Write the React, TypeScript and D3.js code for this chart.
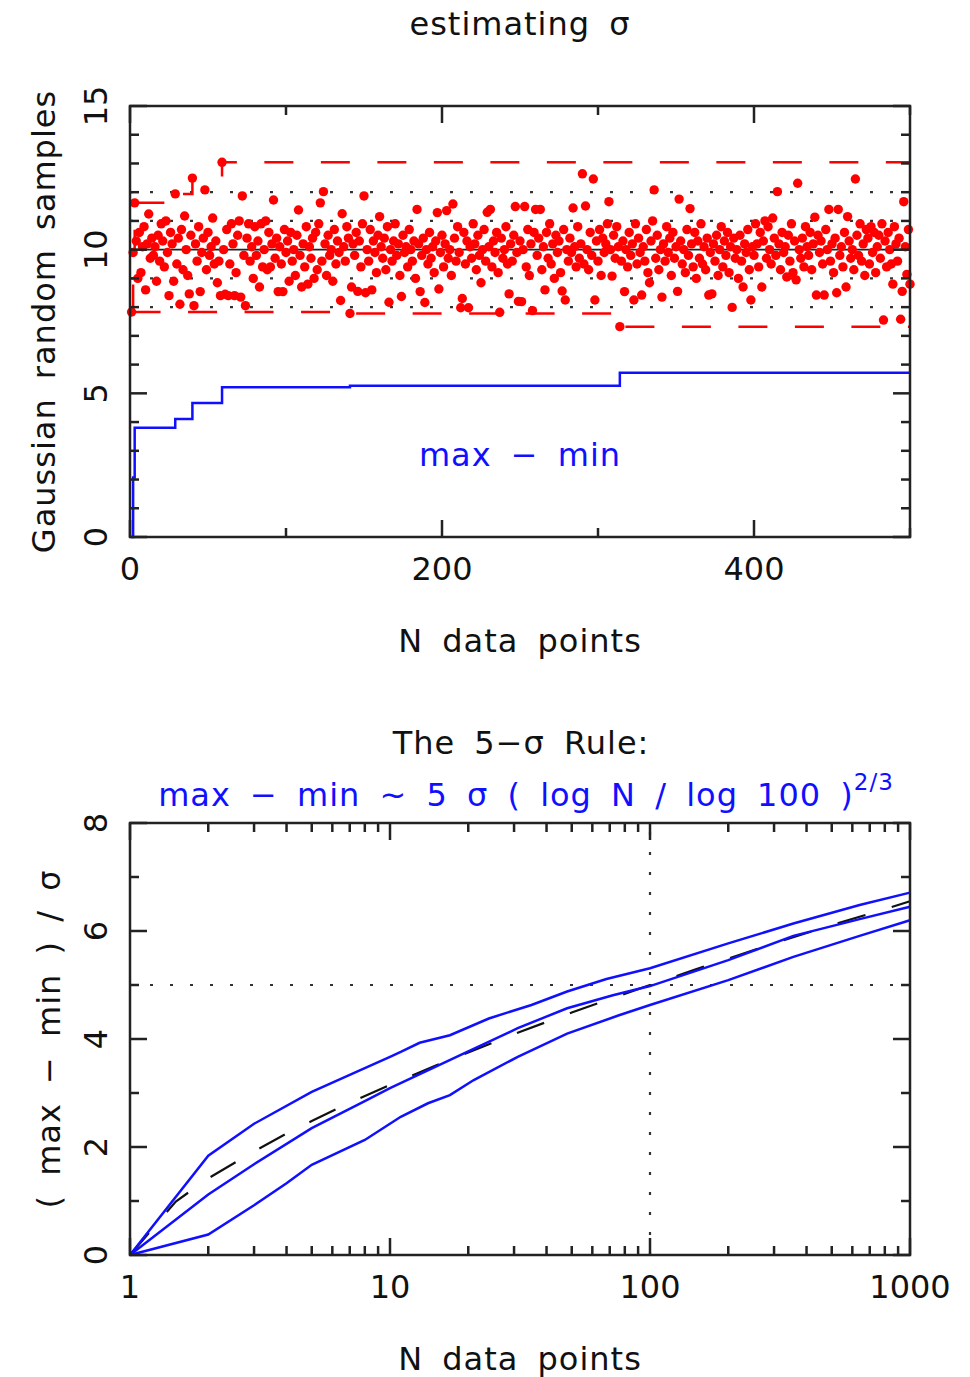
import React from 'react';
import * as d3 from 'd3';

// ---- top panel: 500 Gaussian samples (mean 10, sigma 1) ----
const samples: number[] = [
  7.83, 9.9, 11.63, 10.3, 9.0, 10.6, 9.2, 10.1, 10.8, 8.6, 10.2, 11.24, 9.7, 10.4, 9.8, 10.1, 8.9, 10.5, 9.6, 10.9,
  10.3, 9.4, 11.0, 9.9, 8.4, 10.6, 10.2, 8.9, 11.94, 9.5, 10.4, 8.1, 10.7, 9.3, 11.17, 10.0, 9.1, 8.46, 10.5, 12.49,
  8.05, 10.2, 9.6, 10.8, 8.54, 9.9, 10.4, 12.08, 9.3, 10.6, 9.8, 10.1, 11.1, 9.5, 10.3, 8.85, 9.6, 8.4, 13.04, 10.0,
  8.45, 10.7, 8.4, 9.5, 10.9, 10.2, 8.4, 9.2, 10.5, 11.0, 8.35, 11.87, 9.8, 8.05, 10.4, 10.9, 9.6, 10.1, 9.0, 10.8,
  9.8, 10.3, 8.7, 10.9, 9.4, 10.0, 11.0, 9.3, 10.6, 9.4, 10.2, 11.73, 9.7, 10.4, 8.54, 10.1, 9.5, 8.54, 10.7, 9.9,
  10.3, 8.9, 10.6, 9.6, 10.0, 9.1, 10.5, 11.38, 9.8, 8.7, 10.2, 9.4, 10.8, 8.8, 10.1, 9.7, 10.4, 9.0, 10.6, 9.3,
  10.9, 11.63, 9.6, 12.02, 10.2, 9.1, 10.5, 9.8, 10.0, 8.9, 10.7, 9.5, 10.3, 9.9, 8.23, 11.25, 10.1, 9.6, 10.8, 10.4,
  7.78, 8.7, 10.2, 9.8, 10.6, 8.55, 10.3, 9.4, 10.9, 11.87, 8.5, 10.0, 9.6, 10.7, 8.6, 10.3, 9.9, 9.2, 10.5, 11.15,
  10.1, 9.7, 10.4, 9.3, 10.8, 8.17, 10.0, 9.6, 10.3, 10.9, 9.8, 10.2, 9.1, 8.37, 10.5, 9.9, 10.1, 9.4, 10.7, 10.0,
  9.6, 10.3, 9.0, 11.4, 10.2, 8.54, 9.8, 10.4, 8.16, 10.0, 9.5, 10.6, 9.7, 10.1, 9.2, 10.3, 11.29, 8.63, 9.9, 10.5,
  9.4, 10.2, 11.36, 9.7, 10.0, 9.1, 11.59, 10.4, 9.6, 10.8, 9.9, 7.98, 8.3, 10.6, 9.5, 10.3, 7.98, 10.1, 9.7, 10.9,
  10.2, 9.3, 10.5, 9.8, 8.85, 10.0, 10.7, 9.6, 11.3, 10.1, 11.4, 9.4, 10.3, 9.9, 10.6, 9.2, 7.82, 10.4, 9.7, 10.0,
  10.8, 9.5, 8.46, 10.2, 9.6, 10.5, 11.5, 9.9, 8.2, 10.3, 8.19, 10.0, 11.5, 9.4, 10.7, 9.1, 10.2, 7.88, 10.6, 11.4,
  9.8, 10.4, 11.4, 9.3, 10.1, 8.6, 10.6, 9.7, 10.9, 9.5, 10.2, 9.0, 10.5, 9.9, 10.3, 9.2, 8.56, 10.7, 8.25, 10.0,
  9.6, 10.4, 9.9, 11.45, 10.1, 9.4, 10.8, 9.7, 10.2, 12.64, 9.5, 11.52, 10.0, 9.3, 10.6, 9.8, 12.46, 8.25, 10.3, 9.6,
  10.7, 9.1, 10.4, 9.9, 10.2, 10.9, 11.67, 10.0, 9.08, 10.5, 9.7, 10.8, 10.1, 7.32, 9.6, 10.3, 8.54, 10.0, 9.4, 10.6,
  9.8, 10.2, 8.25, 10.9, 9.5, 10.4, 9.9, 8.42, 10.1, 9.6, 10.7, 9.2, 8.85, 10.3, 11.0, 12.08, 9.7, 10.5, 9.3, 10.0,
  8.35, 10.2, 9.6, 10.8, 9.9, 10.4, 9.1, 10.6, 9.7, 10.1, 8.55, 11.76, 10.3, 9.5, 10.0, 9.2, 10.7, 9.8, 11.43, 10.2,
  9.4, 10.6, 9.0, 10.3, 9.7, 10.9, 9.5, 10.1, 9.3, 10.4, 8.42, 9.9, 8.46, 10.2, 9.6, 10.5, 9.1, 10.0, 10.8, 9.4,
  10.3, 9.8, 10.6, 9.2, 10.1, 7.99, 10.4, 9.7, 10.0, 9.0, 10.5, 9.6, 8.7, 10.2, 9.9, 10.7, 9.3, 8.25, 10.1, 9.8,
  10.9, 10.2, 9.4, 10.6, 8.7, 10.3, 11.0, 9.7, 10.8, 10.0, 9.5, 11.1, 10.4, 9.8, 12.02, 10.2, 9.3, 10.6, 9.9, 10.1,
  9.05, 10.5, 9.6, 10.9, 9.2, 10.3, 8.95, 12.31, 10.0, 9.7, 10.4, 9.4, 10.8, 10.1, 9.8, 10.6, 9.3, 10.2, 11.13, 8.42,
  10.5, 9.9, 10.3, 9.5, 8.42, 10.7, 10.0, 11.4, 9.6, 10.2, 9.2, 10.4, 8.5, 11.4, 9.8, 10.1, 9.4, 10.6, 8.7, 11.15,
  10.3, 9.7, 10.0, 9.3, 12.46, 10.5, 9.8, 10.9, 9.6, 10.2, 9.1, 10.7, 10.4, 9.5, 10.8, 9.9, 10.6, 9.2, 10.1, 10.5,
  9.7, 10.9, 7.55, 10.3, 9.4, 10.6, 10.0, 9.5, 8.8, 10.8, 10.2, 9.6, 10.4, 7.58, 8.55, 11.67, 10.1, 9.14, 10.7, 8.8,
];

const meanLevel = 10;
const sigmaLevels = [8, 9, 11, 12];
const topXTicks = [0, 200, 400];
const topYTicks = [0, 5, 10, 15];

// ---- bottom panel: (max - min) / sigma vs N ----
const ruleN = [1, 1.5, 2, 3, 4, 5, 7, 10, 15, 20, 30, 50, 70, 100, 150, 200, 300, 500, 700, 1000];
const ruleVal = [0, 0.99, 1.42, 1.92, 2.25, 2.48, 2.82, 3.15, 3.51, 3.75, 4.09, 4.49, 4.74, 5.0, 5.29, 5.49, 5.77, 6.11, 6.32, 6.55];

const upperN = [1, 2, 3, 5, 8, 10, 11, 13, 17, 24, 35, 48, 68, 100, 200, 356, 640, 1000];
const upperVal = [0, 1.84, 2.43, 3.02, 3.46, 3.67, 3.76, 3.93, 4.07, 4.38, 4.63, 4.88, 5.11, 5.31, 5.77, 6.14, 6.48, 6.71];

const midN = [1, 2, 3, 5, 8, 10, 15, 20, 31, 48, 72, 100, 200, 356, 640, 1000];
const midVal = [0, 1.12, 1.68, 2.35, 2.85, 3.09, 3.49, 3.77, 4.2, 4.57, 4.81, 4.98, 5.46, 5.91, 6.22, 6.45];

const lowerN = [1, 2, 3, 4, 5, 8, 11, 14, 17, 21, 31, 48, 76, 100, 200, 356, 640, 1000];
const lowerVal = [0, 0.38, 0.92, 1.33, 1.67, 2.13, 2.56, 2.81, 2.96, 3.24, 3.67, 4.1, 4.44, 4.63, 5.09, 5.52, 5.91, 6.2];

const botXTicks = [1, 10, 100, 1000];
const botYTicks = [0, 2, 4, 6, 8];

const FONT = 'DejaVu Sans';
const INK = '#111';
const BLUE = '#1010ff';
const RED = '#ff0000';

type Tick = { v: number; major: boolean };

function Frame({ x, y, xt, yt }: { x: any; y: any; xt: Tick[]; yt: Tick[] }) {
  const [x0, x1] = x.range();
  const [y1, y0] = y.range();
  const len = (m: boolean) => (m ? 17 : 9);
  return (
    <g stroke="#222" strokeWidth={2.5} fill="none">
      <rect x={x0} y={y0} width={x1 - x0} height={y1 - y0} />
      {xt.map((t, i) => (
        <g key={'x' + i}>
          <line x1={x(t.v)} x2={x(t.v)} y1={y1} y2={y1 - len(t.major)} />
          <line x1={x(t.v)} x2={x(t.v)} y1={y0} y2={y0 + len(t.major)} />
        </g>
      ))}
      {yt.map((t, i) => (
        <g key={'y' + i}>
          <line x1={x0} x2={x0 + len(t.major)} y1={y(t.v)} y2={y(t.v)} />
          <line x1={x1} x2={x1 - len(t.major)} y1={y(t.v)} y2={y(t.v)} />
        </g>
      ))}
    </g>
  );
}

const textStyle = { fontFamily: FONT, fontSize: 32, letterSpacing: '1px', wordSpacing: '8px' } as const;
const numStyle = { ...textStyle, letterSpacing: '0px' };

export default function App() {
  // top panel scales
  const xTop = d3.scaleLinear().domain([0, 500]).range([130, 910]);
  const yTop = d3.scaleLinear().domain([0, 15]).range([537, 106]);

  const runMax: number[] = [];
  const runMin: number[] = [];
  samples.forEach((v, i) => {
    runMax.push(i === 0 ? v : Math.max(runMax[i - 1], v));
    runMin.push(i === 0 ? v : Math.min(runMin[i - 1], v));
  });
  const stepLine = d3
    .line<number>()
    .x((_, i) => xTop(i + 1))
    .y((d) => yTop(d))
    .curve(d3.curveStepAfter);
  const rangeVals = runMax.map((m, i) => m - runMin[i]);

  const topXT: Tick[] = d3.range(0, 501, 100).map((v) => ({ v, major: v % 200 === 0 }));
  const topYT: Tick[] = d3.range(0, 16).map((v) => ({ v, major: v % 5 === 0 }));

  // bottom panel scales
  const xBot = d3.scaleLog().domain([1, 1000]).range([130, 910]);
  const yBot = d3.scaleLinear().domain([0, 8]).range([1255, 823]);
  const curve = (ns: number[], vals: number[]) =>
    d3
      .line<number>()
      .x((_, i) => xBot(ns[i]))
      .y((d) => yBot(d))(vals) as string;

  const botXT: Tick[] = [];
  [1, 10, 100].forEach((dec) => d3.range(1, 10).forEach((k) => botXT.push({ v: k * dec, major: k === 1 })));
  botXT.push({ v: 1000, major: true });
  const botYT: Tick[] = d3.range(0, 9).map((v) => ({ v, major: v % 2 === 0 }));

  return (
    <svg width={970} height={1377} style={{ position: 'absolute', left: 0, top: 0, background: '#fff' }}>
      <rect width={970} height={1377} fill="#fff" />

      {/* ===== top panel ===== */}
      <text x={520} y={35} textAnchor="middle" fill={INK} style={textStyle}>
        estimating σ
      </text>

      {sigmaLevels.map((s) => (
        <line
          key={s}
          x1={xTop(0)}
          x2={xTop(500)}
          y1={yTop(s)}
          y2={yTop(s)}
          stroke="#333"
          strokeWidth={2.2}
          strokeDasharray="3,17"
        />
      ))}
      <line x1={xTop(0)} x2={xTop(500)} y1={yTop(meanLevel)} y2={yTop(meanLevel)} stroke="#222" strokeWidth={1.6} />

      <path d={stepLine(runMax) as string} fill="none" stroke={RED} strokeWidth={2.5} strokeDasharray="29,27.5" />
      <path d={stepLine(runMin) as string} fill="none" stroke={RED} strokeWidth={2.5} strokeDasharray="29,27.5" />

      {samples.map((v, i) => (
        <circle key={i} cx={xTop(i + 1)} cy={yTop(v)} r={4.7} fill={RED} />
      ))}

      <path d={stepLine(rangeVals) as string} fill="none" stroke={BLUE} strokeWidth={2.5} />
      <text x={520} y={466} textAnchor="middle" fill={BLUE} style={textStyle}>
        max − min
      </text>

      <Frame x={xTop} y={yTop} xt={topXT} yt={topYT} />

      {topXTicks.map((t) => (
        <text key={t} x={xTop(t)} y={580} textAnchor="middle" fill={INK} style={numStyle}>
          {t}
        </text>
      ))}
      {topYTicks.map((t) => (
        <text key={t} transform={`translate(107,${yTop(t)}) rotate(-90)`} textAnchor="middle" fill={INK} style={numStyle}>
          {t}
        </text>
      ))}
      <text x={520} y={652} textAnchor="middle" fill={INK} style={textStyle}>
        N data points
      </text>
      <text transform={`translate(55,${(106 + 537) / 2}) rotate(-90)`} textAnchor="middle" fill={INK} style={textStyle}>
        Gaussian random samples
      </text>

      {/* ===== bottom panel ===== */}
      <text x={521} y={754} textAnchor="middle" fill={INK} style={textStyle}>
        The 5−σ Rule:
      </text>
      <text x={526} y={806} textAnchor="middle" fill={BLUE} style={textStyle}>
        max − min ~ 5 σ ( log N / log 100 )
        <tspan dy={-16} fontSize={23}>
          2/3
        </tspan>
      </text>

      <line x1={xBot(1)} x2={xBot(1000)} y1={yBot(5)} y2={yBot(5)} stroke="#333" strokeWidth={2.2} strokeDasharray="3,17" />
      <line x1={xBot(100)} x2={xBot(100)} y1={yBot(0)} y2={yBot(8)} stroke="#333" strokeWidth={2.2} strokeDasharray="3,17" />

      <path d={curve(ruleN, ruleVal)} fill="none" stroke="#111" strokeWidth={2.2} strokeDasharray="29,27.5" />
      <path d={curve(upperN, upperVal)} fill="none" stroke={BLUE} strokeWidth={2.5} />
      <path d={curve(midN, midVal)} fill="none" stroke={BLUE} strokeWidth={2.5} />
      <path d={curve(lowerN, lowerVal)} fill="none" stroke={BLUE} strokeWidth={2.5} />

      <Frame x={xBot} y={yBot} xt={botXT} yt={botYT} />

      {botXTicks.map((t) => (
        <text key={t} x={xBot(t)} y={1298} textAnchor="middle" fill={INK} style={numStyle}>
          {t}
        </text>
      ))}
      {botYTicks.map((t) => (
        <text key={t} transform={`translate(107,${yBot(t)}) rotate(-90)`} textAnchor="middle" fill={INK} style={numStyle}>
          {t}
        </text>
      ))}
      <text x={520} y={1370} textAnchor="middle" fill={INK} style={textStyle}>
        N data points
      </text>
      <text transform={`translate(60,${(823 + 1255) / 2}) rotate(-90)`} textAnchor="middle" fill={INK} style={textStyle}>
        ( max − min ) / σ
      </text>
    </svg>
  );
}
